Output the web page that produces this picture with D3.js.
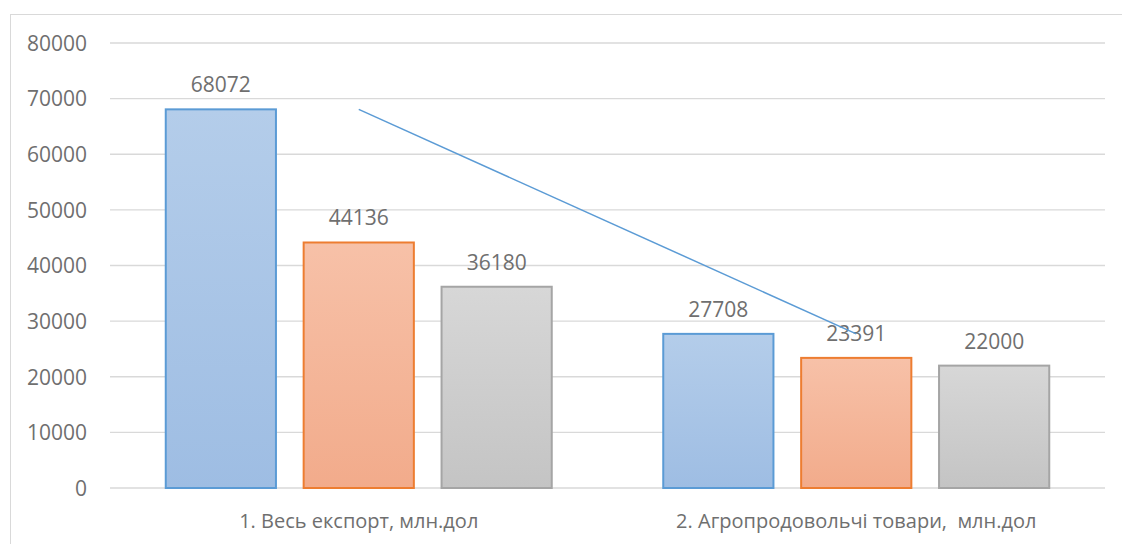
<!DOCTYPE html>
<html>
<head>
<meta charset="utf-8">
<script src="https://cdn.jsdelivr.net/npm/d3@7"></script>
<style>
  body { margin: 0; background: #fff; }
  svg text { font-family: "Open Sans", "Liberation Sans", sans-serif; fill: #6f6f6f; }
</style>
</head>
<body>
<div id="chart"></div>
<script>
// data
var categories = ["1. Весь експорт, млн.дол", "2. Агропродовольчі товари,  млн.дол"];
var seriesNames = ["s1", "s2", "s3"];
var s1 = [68072, 27708];
var s2 = [44136, 23391];
var s3 = [36180, 22000];
var yTicks = [0, 10000, 20000, 30000, 40000, 50000, 60000, 70000, 80000];

var width = 1122, height = 544;
var plot = {left: 110, right: 1105, top: 43, bottom: 488};

var colors = {
    s1: {stroke: "#5b9bd5", top: "#b4cdea", bottom: "#9ebde3"},
    s2: {stroke: "#ed7d31", top: "#f7c1a8", bottom: "#f2ab8b"},
    s3: {stroke: "#a5a5a5", top: "#d7d7d7", bottom: "#c4c4c4"}
};

var rows = categories.map(function(c, i) {
    return {cat: c, s1: s1[i], s2: s2[i], s3: s3[i]};
});

var svg = d3.select("#chart")
    .append("svg")
    .attr("width", width)
    .attr("height", height);

// gradients
var defs = svg.append("defs");
seriesNames.forEach(function(s) {
    var g = defs.append("linearGradient")
        .attr("id", "grad-" + s)
        .attr("x1", 0).attr("y1", 0)
        .attr("x2", 0).attr("y2", 1);
    g.append("stop").attr("offset", "0%").attr("stop-color", colors[s].top);
    g.append("stop").attr("offset", "100%").attr("stop-color", colors[s].bottom);
});

// chart border
svg.append("rect")
    .attr("x", 10.5)
    .attr("y", 14.5)
    .attr("width", 1130)
    .attr("height", 560)
    .attr("fill", "none")
    .attr("stroke", "#d9d9d9");

var x0 = d3.scaleBand()
    .domain(categories)
    .range([plot.left, plot.right]);

var x1 = d3.scaleBand()
    .domain(seriesNames)
    .range([55, x0.bandwidth() - 55])
    .paddingInner(0.19);

var y = d3.scaleLinear()
    .domain([0, 80000])
    .range([plot.bottom, plot.top]);

//Gridlines
svg.append("g")
    .selectAll("line")
    .data(yTicks)
    .enter()
    .append("line")
    .attr("x1", plot.left)
    .attr("x2", plot.right)
    .attr("y1", d => y(d))
    .attr("y2", d => y(d))
    .attr("stroke", "#d9d9d9")
    .attr("stroke-width", 1.3);

//Y axis labels
var yAxis = svg.append("g")
    .attr("transform", "translate(" + (plot.left - 23) + ",0)")
    .call(d3.axisLeft(y).tickValues(yTicks).tickFormat(d3.format("d")).tickSize(0).tickPadding(0));
yAxis.select(".domain").remove();
yAxis.selectAll("text")
    .style("font-family", null)
    .style("font-size", "21px")
    .attr("fill", "#6f6f6f")
    .attr("dy", "0.35em");

//Bars
var groups = svg.append("g")
    .selectAll("g")
    .data(rows)
    .enter()
    .append("g")
    .attr("transform", d => "translate(" + x0(d.cat) + ",0)");

groups.selectAll("rect")
    .data(function(d) {
        return seriesNames.map(function(s) { return {s: s, v: d[s]}; });
    })
    .enter()
    .append("rect")
    .attr("x", d => x1(d.s) + 0.75)
    .attr("y", d => y(d.v))
    .attr("width", x1.bandwidth() - 1.5)
    .attr("height", d => y(0) - y(d.v))
    .attr("fill", d => "url(#grad-" + d.s + ")")
    .attr("stroke", d => colors[d.s].stroke)
    .attr("stroke-width", 2);

//Line through first series
var line = d3.line()
    .x(d => x0(d.cat) + x0.bandwidth() / 2)
    .y(d => y(d.s1));

svg.append("path")
    .datum(rows)
    .attr("d", line)
    .attr("fill", "none")
    .attr("stroke", "#5b9bd5")
    .attr("stroke-width", 1.5);

//Value labels
groups.selectAll("text.val")
    .data(function(d) {
        return seriesNames.map(function(s) { return {s: s, v: d[s]}; });
    })
    .enter()
    .append("text")
    .attr("class", "val")
    .attr("x", d => x1(d.s) + x1.bandwidth() / 2)
    .attr("y", d => y(d.v) - 17)
    .attr("text-anchor", "middle")
    .style("font-size", "21px")
    .text(d => d.v);

//Category labels
svg.append("g")
    .selectAll("text")
    .data(categories)
    .enter()
    .append("text")
    .attr("x", d => x0(d) + x0.bandwidth() / 2)
    .attr("y", 528)
    .attr("text-anchor", "middle")
    .style("font-size", "20px")
    .style("white-space", "pre")
    .attr("xml:space", "preserve")
    .text(d => d);
</script>
</body>
</html>
